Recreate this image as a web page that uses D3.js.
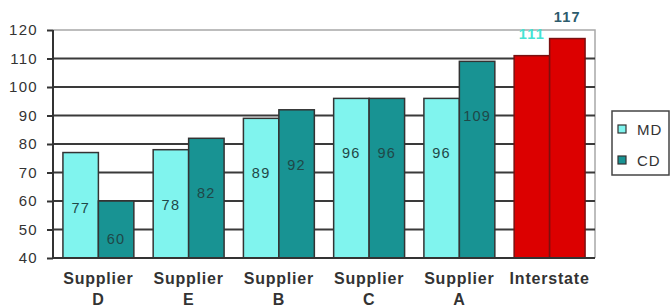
<!DOCTYPE html>
<html>
<head>
<meta charset="utf-8">
<script src="https://cdn.jsdelivr.net/npm/d3@7"></script>
<style>
  body { margin: 0; background: #fff; }
  svg { display: block; font-family: "Liberation Sans", Arial, sans-serif; }
</style>
</head>
<body>
<div id="chart"></div>
<script>
// categories and the two series
const categories = ["Supplier D", "Supplier E", "Supplier B", "Supplier C", "Supplier A", "Interstate"];
const series = ["MD", "CD"];
const mdValues = [77, 78, 89, 96, 96, 111];
const cdValues = [60, 82, 92, 96, 109, 117];
const yTicks = [40, 50, 60, 70, 80, 90, 100, 110, 120];
const highlight = "Interstate";

// dimensions
const width = 670;
const height = 305;
const marginTop = 30;
const marginLeft = 53;
const plotRight = 595;
const plotBottom = 258;

const colors = { MD: "#80f4ee", CD: "#189393" };
const red = "#dc0000";

const svg = d3.select("#chart").append("svg")
    .attr("width", width)
    .attr("height", height)
    .attr("viewBox", [0, 0, width, height]);

// scales
const y = d3.scaleLinear()
    .domain([40, 120])
    .range([plotBottom, marginTop]);

const x0 = d3.scaleBand()
    .domain(categories)
    .range([marginLeft, plotRight])
    .paddingInner(0.214)
    .paddingOuter(0.11);

const x1 = d3.scaleBand()
    .domain(series)
    .range([0, x0.bandwidth()]);

// plot frame: light top + right border
svg.append("path")
    .attr("d", `M${marginLeft},${y(120)}H${plotRight}V${plotBottom}`)
    .attr("fill", "none")
    .attr("stroke", "#a8a8a8")
    .attr("stroke-width", 1.5);

// gridlines
svg.append("g")
    .selectAll("line")
    .data(yTicks.filter(d => d > 40 && d < 120))
    .join("line")
    .attr("x1", marginLeft)
    .attr("x2", plotRight)
    .attr("y1", d => y(d))
    .attr("y2", d => y(d))
    .attr("stroke", "#3a3a3a")
    .attr("stroke-width", 2);

// bars
const rows = categories.map((c, i) => ({ cat: c, MD: mdValues[i], CD: cdValues[i] }));

const group = svg.append("g")
    .selectAll("g")
    .data(rows)
    .join("g")
    .attr("transform", d => `translate(${x0(d.cat)},0)`);

group.selectAll("rect")
    .data(d => series.map(s => ({ cat: d.cat, key: s, value: d[s] })))
    .join("rect")
    .attr("x", d => x1(d.key))
    .attr("y", d => y(d.value))
    .attr("width", x1.bandwidth())
    .attr("height", d => y(40) - y(d.value))
    .attr("fill", d => d.cat === highlight ? red : colors[d.key])
    .attr("stroke", d => d.cat === highlight ? "#7a1010" : "#333")
    .attr("stroke-width", 1.5);

// value labels
group.selectAll("text")
    .data(d => series.map(s => ({ cat: d.cat, key: s, value: d[s] })))
    .join("text")
    .attr("x", d => x1(d.key) + x1.bandwidth() / 2)
    .attr("y", d => {
      if (d.cat === highlight) return y(d.value) - 17;
      const top = y(d.value);
      const mid = (top + y(40)) / 2;
      return Math.min(top + 55, mid + 9) + 5;
    })
    .attr("text-anchor", "middle")
    .attr("font-size", 14.5)
    .attr("letter-spacing", 1.2)
    .attr("font-weight", d => d.cat === highlight ? "bold" : "normal")
    .attr("fill", d => d.cat === highlight ? (d.key === "MD" ? "#45e3d3" : "#2d5b6c") : "#1f4848")
    .text(d => d.value);

// y axis
const yAxis = svg.append("g")
    .attr("transform", `translate(${marginLeft},0)`)
    .call(d3.axisLeft(y).tickValues(yTicks).tickSize(6).tickPadding(9))
    .call(g => g.select(".domain").remove());

yAxis.selectAll(".tick line")
    .attr("stroke", "#333")
    .attr("stroke-width", 2);

yAxis.selectAll(".tick text")
    .attr("font-size", 15)
    .attr("letter-spacing", 1.3)
    .attr("fill", "#333")
    .attr("font-family", "'Liberation Sans', Arial, sans-serif");

svg.append("line")
    .attr("x1", marginLeft).attr("x2", marginLeft)
    .attr("y1", y(120)).attr("y2", plotBottom)
    .attr("stroke", "#333").attr("stroke-width", 2);

svg.append("line")
    .attr("x1", marginLeft - 1).attr("x2", plotRight)
    .attr("y1", plotBottom).attr("y2", plotBottom)
    .attr("stroke", "#333").attr("stroke-width", 2);

// category labels
const catLabels = svg.append("g")
    .selectAll("text")
    .data(categories)
    .join("text")
    .attr("x", d => x0(d) + x0.bandwidth() / 2)
    .attr("y", 284)
    .attr("text-anchor", "middle")
    .attr("font-size", 16)
    .attr("font-weight", "bold")
    .attr("letter-spacing", 0.8)
    .attr("fill", "#333");

catLabels.selectAll("tspan")
    .data(d => d.split(" "))
    .join("tspan")
    .attr("x", function() { return this.parentNode.getAttribute("x"); })
    .attr("dy", (d, i) => i === 0 ? 0 : 21)
    .text(d => d);

// legend
const legend = svg.append("g")
    .attr("transform", "translate(612,111)");

legend.append("rect")
    .attr("width", 57)
    .attr("height", 64)
    .attr("fill", "#fff")
    .attr("stroke", "#444")
    .attr("stroke-width", 1.5);

const item = legend.selectAll("g")
    .data(series)
    .join("g")
    .attr("transform", (d, i) => `translate(0,${18 + i * 31})`);

item.append("rect")
    .attr("x", 6)
    .attr("y", -4)
    .attr("width", 8)
    .attr("height", 8)
    .attr("fill", d => colors[d])
    .attr("stroke", "#333")
    .attr("stroke-width", 1.2);

item.append("text")
    .attr("x", 25)
    .attr("y", 5.5)
    .attr("font-size", 15)
    .attr("letter-spacing", 1)
    .attr("fill", "#333")
    .text(d => d);
</script>
</body>
</html>
